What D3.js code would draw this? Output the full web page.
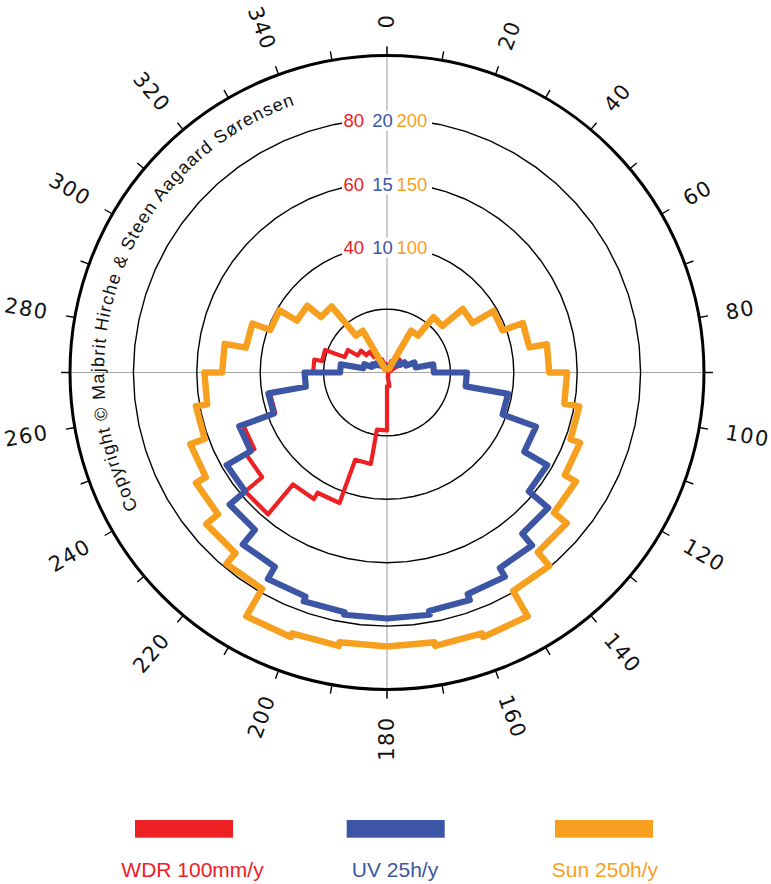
<!DOCTYPE html>
<html><head><meta charset="utf-8">
<script src="https://cdn.jsdelivr.net/npm/d3@7"></script>
<style>html,body{margin:0;padding:0;background:#fff;} svg{display:block;}</style>
</head><body>
<svg id="chart" width="771" height="884"></svg>
<script>
// ---------- data ----------
const binStarts = d3.range(0, 360, 10);           // direction bins (degrees), 10° wide
const wdr = [1.6,2.5,3.8,4.7,5.7,5.4,1.3,0.6,0.6,0.5,0.5,0.5,0.5,0.5,0.6,0.8,1.3,4.4,
             18.3,29.3,43.8,46.1,58.4,51.4,48.3,37.5,25.9,23.3,20.8,14.2,10.7,8.5,6.3,4.4,2.8,1.6]; // mm/y
const uv  = [0.3,0.4,0.55,0.7,0.95,1.2,1.6,2.3,3.7,6.3,9.7,12.5,14.6,16.6,17.8,18.6,19.1,19.4,
             19.4,19.2,18.8,17.7,16.2,14.6,12.4,9.5,6.5,3.7,1.9,1.3,1.1,0.9,0.7,0.55,0.45,0.4];    // h/y
const sun = [3,3,3,38,57,78,97,114,128,142,154,162,172,185,199,222,219,216,
             216,219,222,197,186,174,165,153,144,130,113,98,82,68,38,3,3,3];                      // h/y
const ringValues = [20, 40, 60, 80];               // WDR scale grid rings
const wdrTicks = ["40", "60", "80"];
const uvTicks  = ["10", "15", "20"];
const sunTicks = ["100", "150", "200"];
const tickLabelAngles = d3.range(0, 360, 20);
const minorTickAngles = d3.range(0, 360, 10);
const legendLabels = ["WDR 100mm/y", "UV 25h/y", "Sun 250h/y"];
const colors = {wdr: "#ED2024", uv: "#3C56A5", sun: "#F7A01F"};

// ---------- layout ----------
const cx = 387, cy = 372.5, R = 317, tickLen = 9;
const svg = d3.select("#chart");
svg.append("rect").attr("width", 771).attr("height", 884).attr("fill", "#fff");
const g = svg.append("g").attr("transform", `translate(${cx},${cy})`);

const ang = d3.scaleLinear().domain([0, 360]).range([0, 2 * Math.PI]);
const rW = d3.scaleLinear().domain([0, 100]).range([0, R]);
const rU = d3.scaleLinear().domain([0, 25]).range([0, R]);
const rS = d3.scaleLinear().domain([0, 250]).range([0, R]);
const pt = (a, r) => [r * Math.sin(ang(a)), -r * Math.cos(ang(a))];

// crosshair
g.append("line").attr("x1", -(R + tickLen)).attr("x2", R + tickLen).attr("y1", 0).attr("y2", 0)
  .attr("stroke", "#a5a5a5").attr("stroke-width", 1.1);
g.append("line").attr("y1", -(R + tickLen)).attr("y2", R + tickLen).attr("x1", 0).attr("x2", 0)
  .attr("stroke", "#a5a5a5").attr("stroke-width", 1.1);

// grid rings (faceted)
const ringLine = d3.lineRadial().curve(d3.curveLinearClosed);
ringValues.forEach(v => {
  g.append("path")
    .attr("d", ringLine(d3.range(0, 360, 6).map(a => [ang(a), rW(v)])))
    .attr("fill", "none").attr("stroke", "#000").attr("stroke-width", 1.4);
});

// outer circle + ticks
g.append("circle").attr("r", R).attr("fill", "none").attr("stroke", "#000").attr("stroke-width", 3);
minorTickAngles.forEach(a => {
  const p1 = pt(a, R), p2 = pt(a, R + tickLen);
  g.append("line").attr("x1", p1[0]).attr("y1", p1[1]).attr("x2", p2[0]).attr("y2", p2[1])
    .attr("stroke", "#000").attr("stroke-width", 1.4);
});

// angle labels (radial)
tickLabelAngles.forEach(a => {
  const right = a < 180;
  const p = pt(a, R + 27);
  g.append("text")
    .attr("transform", `translate(${p[0]},${p[1]}) rotate(${right ? a - 90 : a + 90})`)
    .attr("text-anchor", right ? "start" : "end")
    .attr("dominant-baseline", "central")
    .attr("font-family", "DejaVu Sans, sans-serif")
    .attr("font-size", 21).attr("letter-spacing", 1.4)
    .attr("fill", "#111")
    .text(a);
});

// series (stepped polar histograms)
const seriesLine = d3.lineRadial().curve(d3.curveLinearClosed);
function stepPts(vals, scale) {
  return vals.flatMap((v, i) => [[ang(binStarts[i]), scale(v)], [ang(binStarts[i] + 10), scale(v)]]);
}
g.append("path").attr("d", seriesLine(stepPts(wdr, rW)))
  .attr("fill", "none").attr("stroke", colors.wdr).attr("stroke-width", 4.2).attr("stroke-linejoin", "round");
g.append("path").attr("d", seriesLine(stepPts(uv, rU)))
  .attr("fill", "none").attr("stroke", colors.uv).attr("stroke-width", 6.2).attr("stroke-linejoin", "round");
g.append("path").attr("d", seriesLine(stepPts(sun, rS)))
  .attr("fill", "none").attr("stroke", colors.sun).attr("stroke-width", 6.5).attr("stroke-linejoin", "round");

// ring labels
wdrTicks.forEach((t, i) => {
  const y = -rW(+t) + 2;
  g.append("rect").attr("x", -45).attr("y", y - 10).attr("width", 90).attr("height", 20).attr("fill", "#fff");
  const lab = (txt, x, anchor, col) => g.append("text").attr("x", x).attr("y", y)
    .attr("text-anchor", anchor).attr("dominant-baseline", "central")
    .attr("font-family", "Liberation Sans, Arial, sans-serif").attr("font-size", 18.5)
    .attr("fill", col).text(txt);
  lab(t, -23, "end", colors.wdr);
  lab(uvTicks[i], -4.5, "middle", colors.uv);
  lab(sunTicks[i], 9.5, "start", colors.sun);
});

// copyright along arc
const cr = 283, a0 = 241.5, a1 = 352;
const c0 = pt(a0, cr), c1 = pt(a1, cr);
g.append("path").attr("id", "crpath").attr("fill", "none")
  .attr("d", `M${c0[0]},${c0[1]} A${cr},${cr} 0 0,1 ${c1[0]},${c1[1]}`);
g.append("text").attr("font-family", "Liberation Sans, Arial, sans-serif").attr("font-size", 18)
  .attr("letter-spacing", 1.1).attr("fill", "#111")
  .append("textPath").attr("href", "#crpath")
  .text("Copyright \u00A9 Majbrit Hirche & Steen Aagaard S\u00F8rensen");

// legend
const legX = [135, 346.7, 555], legTextX = [192.5, 395, 605], legCol = [colors.wdr, colors.uv, colors.sun];
legendLabels.forEach((t, i) => {
  svg.append("rect").attr("x", legX[i]).attr("y", 820).attr("width", 98).attr("height", 17.7).attr("fill", legCol[i]);
  svg.append("text").attr("x", legTextX[i]).attr("y", 876.5).attr("text-anchor", "middle")
    .attr("font-family", "Liberation Sans, Arial, sans-serif").attr("font-size", 21)
    .attr("fill", legCol[i]).text(t);
});
</script>
</body></html>
